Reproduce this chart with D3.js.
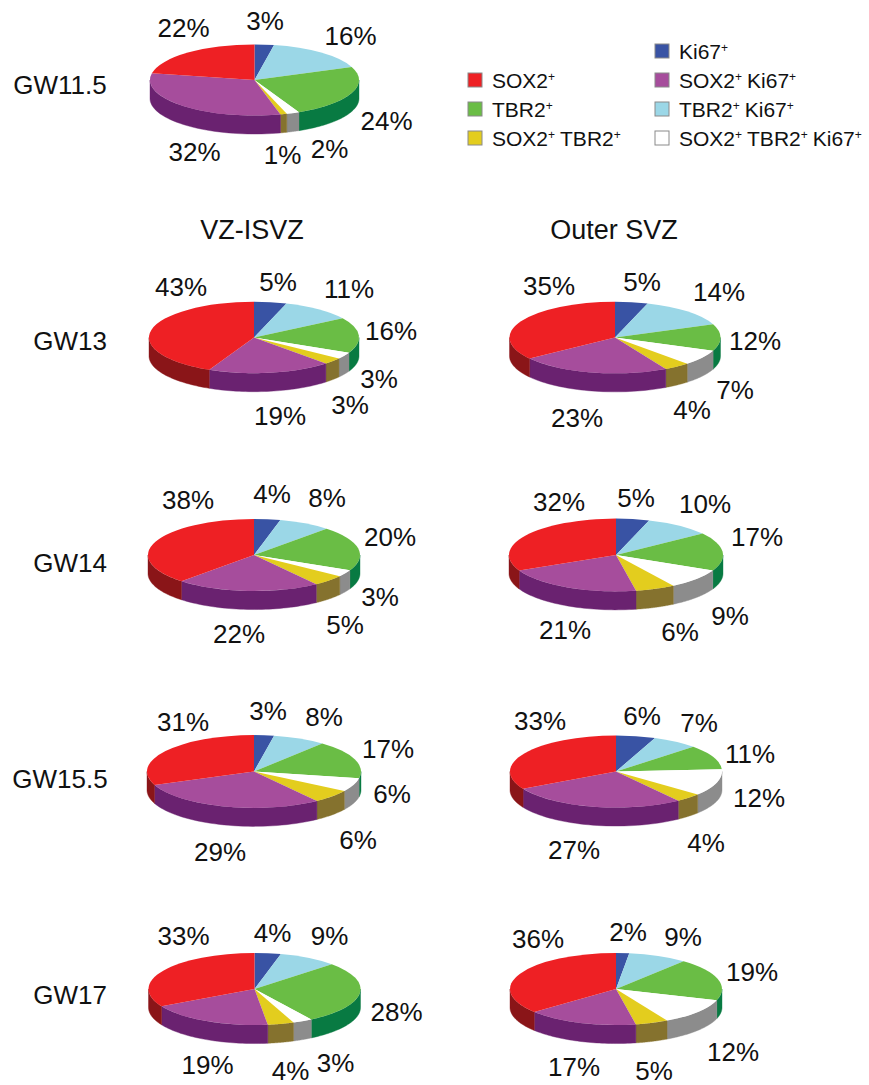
<!DOCTYPE html>
<html>
<head>
<meta charset="utf-8">
<title>Progenitor marker composition by gestational week</title>
<script src="https://cdn.jsdelivr.net/npm/d3@7/dist/d3.min.js"></script>
<style>
  html, body { margin: 0; padding: 0; background: #fff; }
  svg { display: block; }
  text { font-family: "Liberation Sans", Arial, sans-serif; fill: #111; }
</style>
</head>
<body>
<svg id="chart" width="869" height="1085"></svg>
<script>
// Cell populations, in clockwise slice order starting at twelve o'clock.
const populations = ["Ki67", "TBR2 Ki67", "TBR2", "SOX2 TBR2 Ki67", "SOX2 TBR2", "SOX2 Ki67", "SOX2"];

// Percentages per stage and zone, same order as populations.
const gw115 = [3, 16, 24, 2, 1, 32, 22];
const gw13Vz = [5, 11, 16, 3, 3, 19, 43];
const gw13Osvz = [5, 14, 12, 7, 4, 23, 35];
const gw14Vz = [4, 8, 20, 3, 5, 22, 38];
const gw14Osvz = [5, 10, 17, 9, 6, 21, 32];
const gw155Vz = [3, 8, 17, 6, 6, 29, 31];
const gw155Osvz = [6, 7, 11, 12, 4, 27, 33];
const gw17Vz = [4, 9, 28, 3, 4, 19, 33];
const gw17Osvz = [2, 9, 19, 12, 5, 17, 36];

const rowLabels = ["GW11.5", "GW13", "GW14", "GW15.5", "GW17"];
const columnLabels = ["VZ-ISVZ", "Outer SVZ"];

// Legend entries: each is a list of marker names carrying a superscript plus.
const legendLeft = [["SOX2"], ["TBR2"], ["SOX2", "TBR2"]];
const legendRight = [["Ki67"], ["SOX2", "Ki67"], ["TBR2", "Ki67"], ["SOX2", "TBR2", "Ki67"]];

const topColors = ["#3953a4", "#9bd7e7", "#6abd45", "#ffffff", "#e3cd1e", "#a64d9c", "#ee2024"];
const sideColors = ["#27397a", "#6c9aa6", "#087a42", "#8c8c8c", "#85722e", "#6a2270", "#8a1518"];

const topColor = d3.scaleOrdinal().domain(populations).range(topColors);
const sideColor = d3.scaleOrdinal().domain(populations).range(sideColors);

const TILT = 0.34, DEPTH = 18.5;

// Pie placement and label anchors (label centres, offset from each pie's centre).
const panels = [
  { values: gw115, cx: 254.5, cy: 80, r: 104.5,
    spots: [[10.5,-59],[96,-44],[132,41],[75,69],[28,75],[-60,72],[-71,-52]] },
  { values: gw13Vz, cx: 254, cy: 337.5, r: 105,
    spots: [[24,-56],[95,-49],[137,-7],[125,41],[96,67],[26,78],[-73,-51]] },
  { values: gw13Osvz, cx: 615, cy: 337.5, r: 105.5,
    spots: [[27,-56],[104,-46],[140,3],[120,52],[77,72],[-38,80],[-66,-52]] },
  { values: gw14Vz, cx: 254, cy: 555, r: 106,
    spots: [[18,-61],[73,-57],[136,-18],[126,42],[91,70],[-15,79],[-66,-55]] },
  { values: gw14Osvz, cx: 616, cy: 555, r: 107,
    spots: [[20,-57],[89,-51],[141,-18],[114,61],[64,77],[-51,75],[-57,-53]] },
  { values: gw155Vz, cx: 254, cy: 771.5, r: 107,
    spots: [[14,-61],[70,-55],[134,-23],[138,22],[104,68],[-34,80],[-71,-50]] },
  { values: gw155Osvz, cx: 616, cy: 771.5, r: 106,
    spots: [[26,-56],[83,-49],[134,-18],[143,26],[90,71],[-42,78],[-76,-51]] },
  { values: gw17Vz, cx: 254.5, cy: 989, r: 106,
    spots: [[18,-56],[75,-53],[142,23],[81,74],[36,81.5],[-47,76],[-71,-53]] },
  { values: gw17Osvz, cx: 616, cy: 989, r: 106,
    spots: [[12,-57],[67,-52],[136,-17],[117,63],[38,81.5],[-42,78],[-78,-50]] }
];

const rowLabelSpots = [[60, 85], [70, 341], [70, 563], [60, 779], [70, 995]];
const columnLabelSpots = [[252, 230], [614, 230]];

const svg = d3.select("#chart");
const pie = d3.pie().sort(null).startAngle(0).endAngle(2 * Math.PI);

panels.forEach(panel => {
  const rx = panel.r, ry = panel.r * TILT;
  const slices = pie(panel.values);
  const arc = d3.arc().innerRadius(0).outerRadius(rx);
  const g = svg.append("g").attr("transform", `translate(${panel.cx},${panel.cy})`);

  // Rim of the tilted disc, traced as an area between the top edge and its lowered copy.
  const rim = d3.area()
    .x(a => rx * Math.sin(a))
    .y0(a => -ry * Math.cos(a))
    .y1(a => -ry * Math.cos(a) + DEPTH);

  // Only the near half of the disc (3 to 9 o'clock) shows a wall.
  slices.forEach((s, i) => {
    const from = Math.max(s.startAngle, Math.PI / 2);
    const to = Math.min(s.endAngle, 3 * Math.PI / 2);
    if (to <= from) return;
    const steps = d3.range(0, 41).map(k => from + (to - from) * k / 40);
    g.append("path")
      .attr("d", rim(steps))
      .attr("fill", sideColor(populations[i]))
      .attr("stroke", sideColor(populations[i]))
      .attr("stroke-width", 0.4);
  });

  // Top face: a flat pie squashed vertically.
  const top = g.append("g").attr("transform", `scale(1,${TILT})`);
  slices.forEach((s, i) => {
    top.append("path")
      .attr("d", arc(s))
      .attr("fill", topColor(populations[i]));
  });

  // Percent labels.
  slices.forEach((s, i) => {
    g.append("text")
      .attr("x", panel.spots[i][0])
      .attr("y", panel.spots[i][1])
      .attr("text-anchor", "middle")
      .attr("dominant-baseline", "central")
      .attr("font-size", 26)
      .text(s.value + "%");
  });
});

rowLabels.forEach((label, i) => {
  svg.append("text")
    .attr("x", rowLabelSpots[i][0])
    .attr("y", rowLabelSpots[i][1])
    .attr("text-anchor", "middle")
    .attr("dominant-baseline", "central")
    .attr("font-size", 26)
    .text(label);
});

columnLabels.forEach((label, i) => {
  svg.append("text")
    .attr("x", columnLabelSpots[i][0])
    .attr("y", columnLabelSpots[i][1])
    .attr("text-anchor", "middle")
    .attr("dominant-baseline", "central")
    .attr("font-size", 27)
    .text(label);
});

// Legend columns: swatch followed by marker names with superscript plus signs.
function drawLegend(entries, x, rowY) {
  entries.forEach((markers, i) => {
    const y = rowY[i];
    svg.append("rect")
      .attr("x", x).attr("y", y - 7)
      .attr("width", 14).attr("height", 14)
      .attr("fill", topColor(markers.join(" ")))
      .attr("stroke", "#8a8a8a")
      .attr("stroke-width", 1);
    const text = svg.append("text")
      .attr("x", x + 24).attr("y", y + 7.5)
      .attr("font-size", 21);
    markers.forEach((m, j) => {
      text.append("tspan")
        .attr("dx", j ? 5 : 0)
        .attr("dy", j ? 7 : 0)
        .text(m);
      text.append("tspan")
        .attr("font-size", 12)
        .attr("dy", -7)
        .text("+");
    });
  });
}

drawLegend(legendLeft, 468, [80, 109, 138]);
drawLegend(legendRight, 655, [51, 80, 109, 138]);
</script>
</body>
</html>
